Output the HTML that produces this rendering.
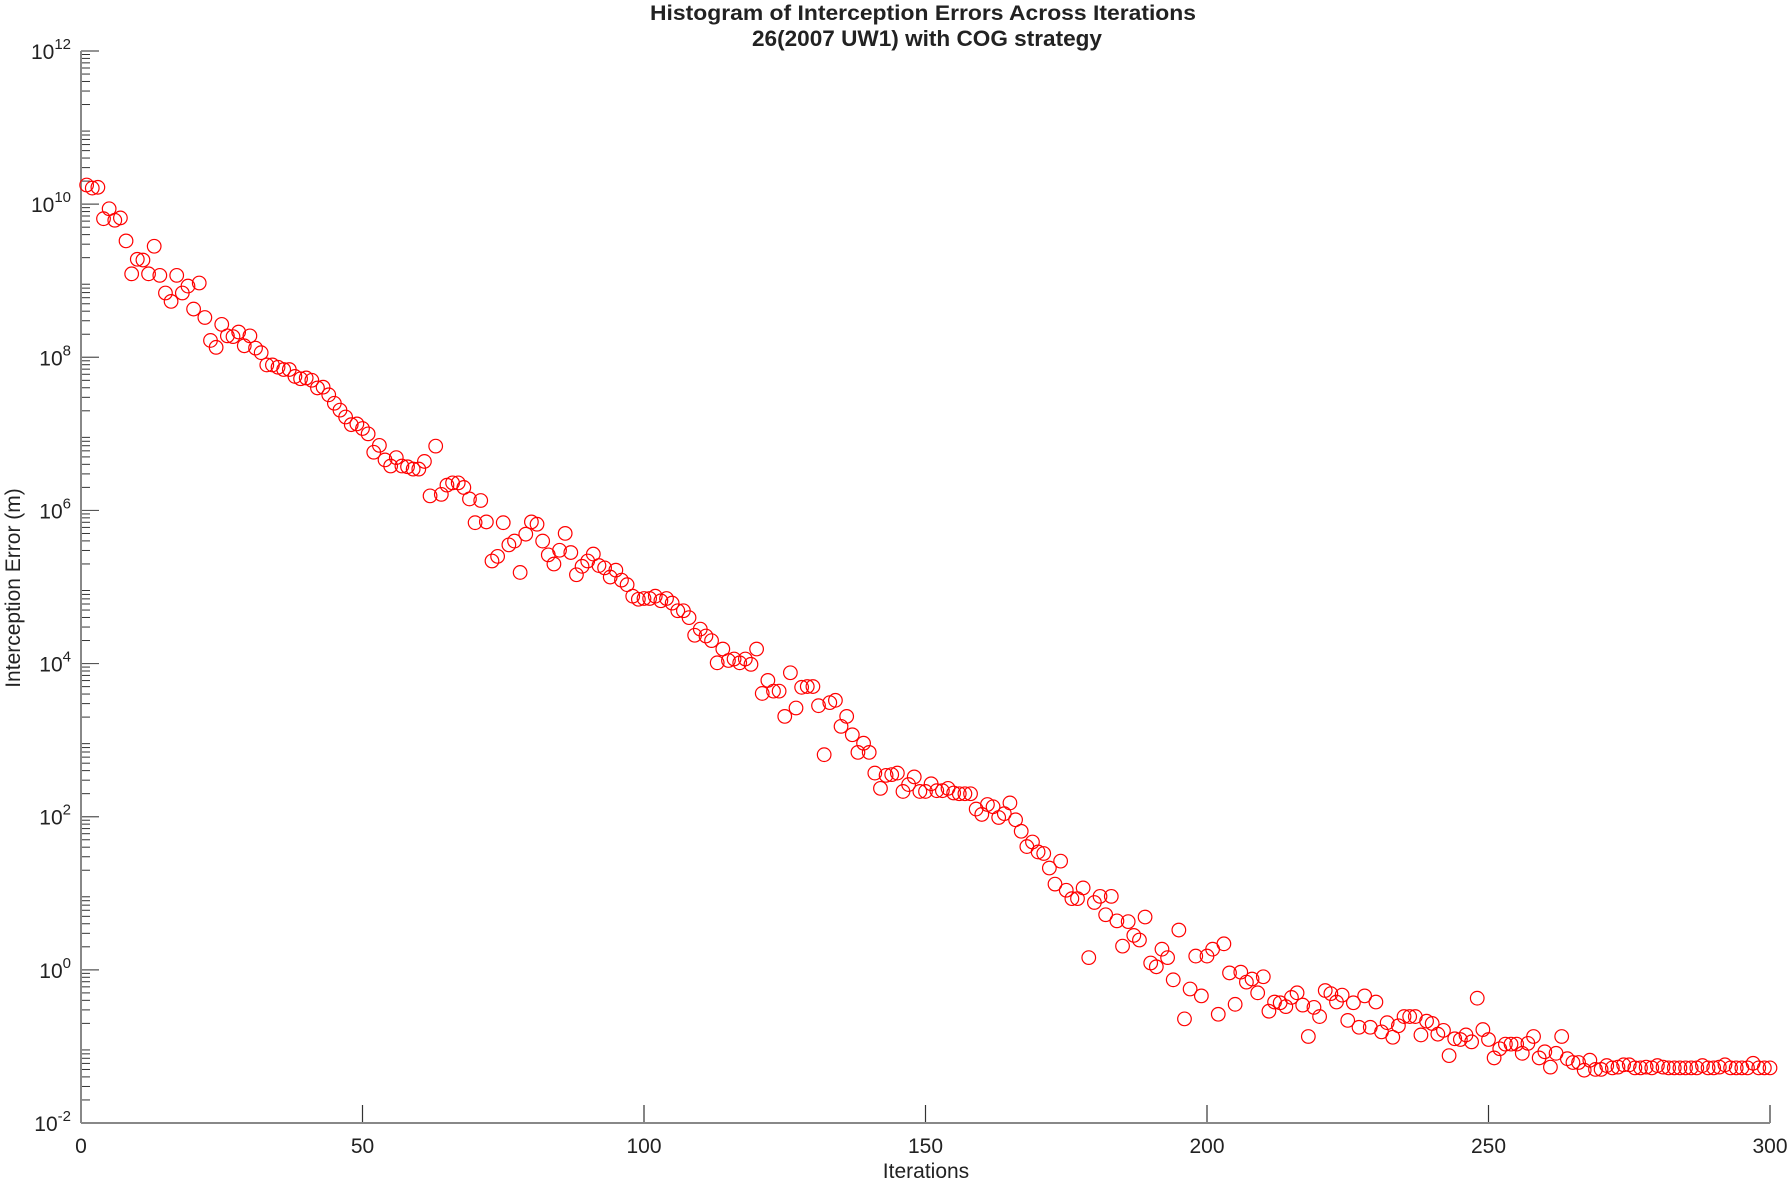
<!DOCTYPE html>
<html><head><meta charset="utf-8"><style>
html,body{margin:0;padding:0;background:#fff;}
svg{display:block;font-family:"Liberation Sans",Arial,sans-serif;}
</style></head><body>
<svg id="chart" width="1789" height="1182" viewBox="0 0 1789 1182" xmlns="http://www.w3.org/2000/svg">
<rect width="1789" height="1182" fill="#fff"/>
<text x="650" y="20" font-size="21" font-weight="bold" fill="#222" textLength="546" lengthAdjust="spacingAndGlyphs">Histogram of Interception Errors Across Iterations</text>
<text x="752" y="46" font-size="22" font-weight="bold" fill="#222" textLength="350" lengthAdjust="spacingAndGlyphs">26(2007 UW1) with COG strategy</text>
<text x="926" y="1178" font-size="21" fill="#222" text-anchor="middle">Iterations</text>
<text transform="translate(20,588) rotate(-90)" font-size="21" fill="#222" text-anchor="middle">Interception Error (m)</text>
<g id="axes"></g>
<g id="points"></g>
</svg>
<script>
const iterations = [];
for (let i = 1; i <= 300; i++) iterations.push(i);
const logErrors = [
10.25,10.21,10.22,9.81,9.94,9.79,9.82,9.52,9.09,9.28,9.27,9.09,9.45,9.07,8.84,8.73,9.07,8.84,8.93,8.63,
8.97,8.52,8.22,8.13,8.43,8.28,8.27,8.33,8.15,8.28,8.12,8.06,7.9,7.9,7.87,7.84,7.84,7.75,7.72,7.73,
7.7,7.6,7.61,7.51,7.4,7.31,7.22,7.12,7.13,7.07,7.0,6.76,6.85,6.66,6.58,6.69,6.58,6.57,6.54,6.54,
6.64,6.19,6.84,6.21,6.33,6.36,6.36,6.3,6.15,5.84,6.13,5.85,5.34,5.4,5.84,5.55,5.6,5.19,5.69,5.85,
5.82,5.6,5.42,5.3,5.48,5.7,5.45,5.16,5.27,5.34,5.43,5.28,5.25,5.13,5.22,5.09,5.03,4.88,4.84,4.85,
4.85,4.88,4.82,4.85,4.79,4.69,4.69,4.6,4.37,4.45,4.36,4.3,4.01,4.19,4.04,4.06,4.01,4.06,3.99,4.19,
3.61,3.78,3.64,3.64,3.31,3.88,3.42,3.69,3.7,3.7,3.45,2.81,3.49,3.52,3.18,3.31,3.07,2.84,2.96,2.84,
2.57,2.37,2.54,2.55,2.57,2.33,2.42,2.52,2.33,2.33,2.43,2.34,2.34,2.37,2.31,2.3,2.3,2.3,2.1,2.03,
2.16,2.13,1.99,2.04,2.18,1.96,1.81,1.61,1.67,1.54,1.52,1.33,1.12,1.42,1.04,0.93,0.93,1.07,0.16,0.88,
0.96,0.72,0.96,0.64,0.31,0.63,0.45,0.39,0.69,0.09,0.04,0.27,0.16,-0.13,0.52,-0.64,-0.25,0.18,-0.34,0.18,
0.27,-0.58,0.34,-0.04,-0.45,-0.03,-0.16,-0.12,-0.3,-0.09,-0.54,-0.42,-0.43,-0.48,-0.36,-0.3,-0.46,-0.87,-0.49,-0.61,
-0.27,-0.31,-0.42,-0.33,-0.66,-0.43,-0.75,-0.34,-0.75,-0.42,-0.81,-0.69,-0.88,-0.73,-0.61,-0.61,-0.61,-0.85,-0.67,-0.7,
-0.84,-0.79,-1.12,-0.9,-0.91,-0.85,-0.94,-0.37,-0.78,-0.91,-1.15,-1.03,-0.97,-0.97,-0.97,-1.09,-0.96,-0.87,-1.15,-1.07,
-1.27,-1.09,-0.87,-1.16,-1.21,-1.21,-1.31,-1.18,-1.3,-1.3,-1.25,-1.28,-1.27,-1.24,-1.24,-1.28,-1.28,-1.27,-1.28,-1.25,
-1.27,-1.28,-1.28,-1.28,-1.28,-1.28,-1.28,-1.25,-1.28,-1.28,-1.27,-1.24,-1.28,-1.28,-1.28,-1.28,-1.22,-1.28,-1.28,-1.28
];
const xTicks = [0, 50, 100, 150, 200, 250, 300];
const yTickExps = [-2, 0, 2, 4, 6, 8, 10, 12];

const NS = "http://www.w3.org/2000/svg";
const X0 = 81, X1 = 1770, Y0 = 1123, Y1 = 51;
const xMin = 0, xMax = 300, eMin = -2, eMax = 12;
function xs(v){ return X0 + (v - xMin) / (xMax - xMin) * (X1 - X0); }
function ys(e){ return Y0 - (e - eMin) / (eMax - eMin) * (Y0 - Y1); }
function mk(tag, attrs, parent){
  const el = document.createElementNS(NS, tag);
  for (const k in attrs) el.setAttribute(k, attrs[k]);
  parent.appendChild(el);
  return el;
}
const axes = document.getElementById('axes');
const pts = document.getElementById('points');

for (let e = eMin; e < eMax; e++) {
  for (let m = 2; m <= 9; m++) {
    const y = ys(e + Math.log10(m));
    const t = mk('line', {x1: X0, x2: X0 + 9, y1: y, y2: y, stroke: '#333', 'stroke-width': 1}, axes);
    
    
  }
}
yTickExps.forEach(e => {
  const y = ys(e);
  const t = mk('line', {x1: X0, x2: X0 + 18, y1: y, y2: y, stroke: '#555', 'stroke-width': 1.2}, axes);
  
  
  const lab = mk('text', {x: 71, y: y + 8, 'font-size': 21, fill: '#222', 'text-anchor': 'end'}, axes);
  
  
  const base = document.createElementNS(NS, 'tspan'); base.textContent = '10'; lab.appendChild(base);
  const sup = document.createElementNS(NS, 'tspan');
  sup.setAttribute('dy', -10); sup.setAttribute('font-size', 15);
  sup.textContent = String(e); lab.appendChild(sup);
});
xTicks.forEach(v => {
  const x = xs(v);
  const t = mk('line', {x1: x, x2: x, y1: Y0, y2: Y0 - 18, stroke: '#333', 'stroke-width': 1.2}, axes);
  
  
  const lab = mk('text', {x: x, y: 1153, 'font-size': 21, fill: '#222', 'text-anchor': 'middle'}, axes);
  
  
  lab.textContent = String(v);
});
const ya = mk('line', {x1: X0, x2: X0, y1: Y1, y2: Y0, stroke: '#888', 'stroke-width': 2}, axes);


const xa = mk('line', {x1: X0, x2: X1, y1: Y0, y2: Y0, stroke: '#888', 'stroke-width': 2}, axes);



iterations.forEach((it, i) => {
  const c = mk('circle', {cx: xs(it), cy: ys(logErrors[i]), r: 6.8, fill: 'none', stroke: '#ff0000', 'stroke-width': 1.2}, pts);
  
  
});
</script>
</body></html>
